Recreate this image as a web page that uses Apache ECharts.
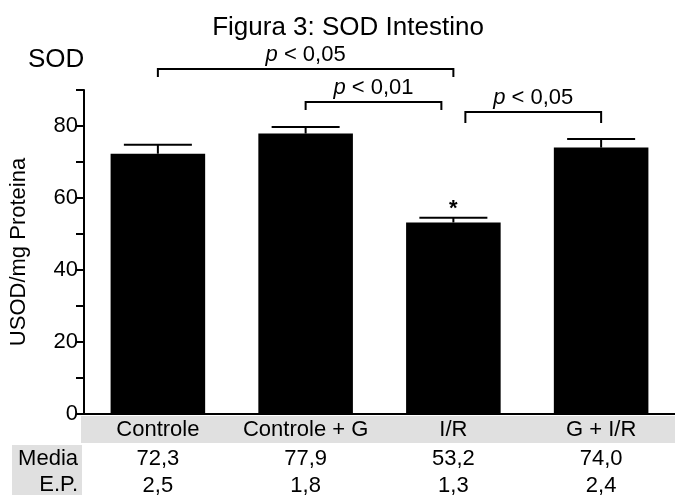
<!DOCTYPE html>
<html>
<head>
<meta charset="utf-8">
<script src="https://cdn.jsdelivr.net/npm/echarts@6/dist/echarts.min.js"></script>
<style>
html,body{margin:0;padding:0;background:#fff;}
#chart{width:675px;height:497px;}
</style>
</head>
<body>
<div id="chart"></div>
<script>
// ---- data ----
var categories = ['Controle', 'Controle + G', 'I/R', 'G + I/R'];
var means = [72.3, 77.9, 53.2, 74.0];
var errors = [2.5, 1.8, 1.3, 2.4];
var meanLabels = ['72,3', '77,9', '53,2', '74,0'];
var errorLabels = ['2,5', '1,8', '1,3', '2,4'];
var marks = ['', '', '*', ''];
var yTicks = [0, 20, 40, 60, 80];
// significance brackets: [from category, to category, label]
var bracketFrom = [0, 1, 2];
var bracketTo = [2, 2, 3];
var bracketText = ['0,05', '0,01', '0,05'];

// ---- layout (pixels) ----
var bracketY = [69, 102, 112];
var bracketLeg = [8, 8, 11];
var bracketShiftFrom = [0, 0, 12];
var bracketShiftTo = [0, -12, 0];

var FONT = 'Liberation Sans, Arial, Helvetica, sans-serif';
var chart = echarts.init(document.getElementById('chart'));

var errData = categories.map(function (c, i) { return [i, means[i], errors[i], marks[i]]; });
var brData = bracketFrom.map(function (f, i) { return [f, bracketTo[i], i]; });

chart.setOption({
  backgroundColor: '#fff',
  animation: false,
  graphic: [
    { type: 'rect', z: -10, shape: { x: 81, y: 416, width: 600, height: 27 }, style: { fill: '#e0e0e0' } },
    { type: 'rect', z: -10, shape: { x: 12, y: 445, width: 70, height: 50 }, style: { fill: '#e0e0e0' } },
    { type: 'text', style: { text: 'Media', x: 78, y: 459, textAlign: 'right', textVerticalAlign: 'middle', font: '22px ' + FONT, fill: '#000' } },
    { type: 'text', style: { text: 'E.P.', x: 78, y: 485, textAlign: 'right', textVerticalAlign: 'middle', font: '22px ' + FONT, fill: '#000' } },
    { type: 'text', style: { text: 'Figura 3: SOD Intestino', x: 348, y: 28, textAlign: 'center', textVerticalAlign: 'middle', font: '26px ' + FONT, fill: '#000' } },
    { type: 'text', style: { text: 'SOD', x: 28, y: 60, textAlign: 'left', textVerticalAlign: 'middle', font: '26px ' + FONT, fill: '#000' } }
  ],
  grid: { left: 81, right: -5, top: 90, bottom: 83 },
  xAxis: {
    type: 'category',
    data: categories,
    axisLine: { lineStyle: { color: '#000', width: 2 } },
    axisTick: { show: false },
    axisLabel: {
      margin: 2,
      interval: 0,
      formatter: function (v, i) {
        return '{c|' + v + '}\n{m|' + meanLabels[i] + '}\n{e|' + errorLabels[i] + '}';
      },
      rich: {
        c: { fontSize: 22, fontFamily: FONT, color: '#000', lineHeight: 28 },
        m: { fontSize: 22, fontFamily: FONT, color: '#000', lineHeight: 29 },
        e: { fontSize: 22, fontFamily: FONT, color: '#000', lineHeight: 25 }
      }
    }
  },
  yAxis: {
    type: 'value',
    min: 0, max: 90, interval: 10,
    name: 'USOD/mg Proteina',
    nameLocation: 'middle',
    nameGap: 54,
    nameTextStyle: { fontSize: 22, fontFamily: FONT, color: '#000' },
    axisLine: { show: true, lineStyle: { color: '#000', width: 2 } },
    axisTick: { show: true, length: 8, lineStyle: { color: '#000', width: 2 } },
    splitLine: { show: false },
    axisLabel: {
      fontSize: 22, fontFamily: FONT, color: '#000', margin: 6,
      formatter: function (v) { return yTicks.indexOf(v) >= 0 ? String(v) : ''; }
    }
  },
  series: [
    {
      type: 'bar',
      data: means,
      barWidth: '64%',
      itemStyle: { color: '#000' }
    },
    {
      type: 'custom',
      data: errData,
      clip: false,
      z: 5,
      renderItem: function (params, api) {
        var x = api.value(0), m = api.value(1), e = api.value(2);
        var top = api.coord([x, m + e]);
        var base = api.coord([x, m]);
        var hc = 34;
        var children = [
          { type: 'line', shape: { x1: top[0], y1: base[1], x2: top[0], y2: top[1] }, style: { stroke: '#000', lineWidth: 2 } },
          { type: 'line', shape: { x1: top[0] - hc, y1: top[1], x2: top[0] + hc, y2: top[1] }, style: { stroke: '#000', lineWidth: 2 } }
        ];
        var mk = marks[params.dataIndex];
        if (mk) {
          children.push({ type: 'text', style: { text: mk, x: top[0], y: top[1] - 9, textAlign: 'center', textVerticalAlign: 'middle', font: 'bold 22px ' + FONT, fill: '#000' } });
        }
        return { type: 'group', children: children };
      }
    },
    {
      type: 'custom',
      data: brData,
      clip: false,
      z: 5,
      renderItem: function (params, api) {
        var i = params.dataIndex;
        var a = api.coord([api.value(0), 0]);
        var b = api.coord([api.value(1), 0]);
        var x1 = a[0] + bracketShiftFrom[i], x2 = b[0] + bracketShiftTo[i];
        var y = bracketY[i], leg = bracketLeg[i];
        return {
          type: 'group',
          children: [
            { type: 'polyline', shape: { points: [[x1, y + leg], [x1, y], [x2, y], [x2, y + leg]] }, style: { stroke: '#000', lineWidth: 2, fill: null } },
            { type: 'text', style: {
                text: '{i|p} < ' + bracketText[i], x: (x1 + x2) / 2, y: y - 3,
                textAlign: 'center', textVerticalAlign: 'bottom',
                rich: { i: { fontStyle: 'italic', fontSize: 22, fontFamily: FONT, fill: '#000' } },
                font: '22px ' + FONT, fill: '#000' } }
          ]
        };
      }
    }
  ]
});
</script>
</body>
</html>
